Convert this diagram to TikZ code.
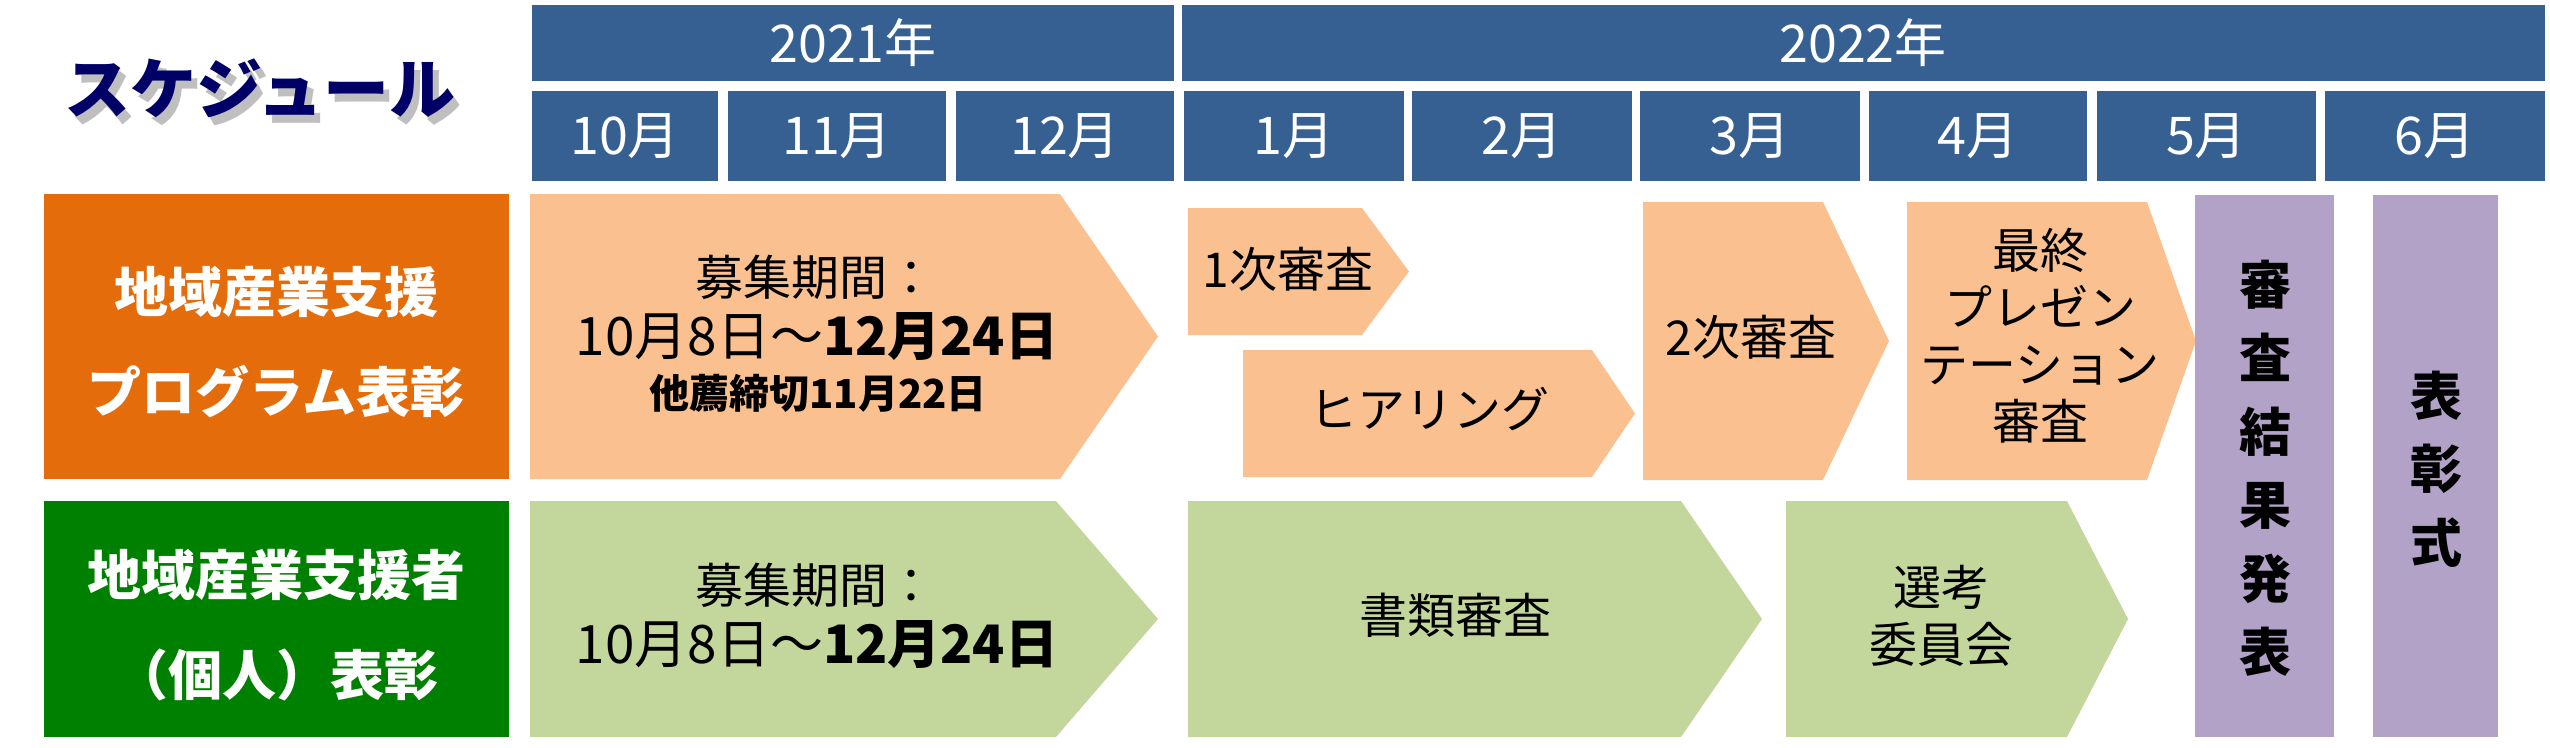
\documentclass[tikz,border=0pt]{standalone}
\usepackage{fontspec}
\setmainfont{Noto Sans CJK JP}
\definecolor{hdrblue}{HTML}{376092}
\definecolor{lblorange}{HTML}{E46C0A}
\definecolor{lightorange}{HTML}{FAC090}
\definecolor{lblgreen}{HTML}{008000}
\definecolor{lightgreen}{HTML}{C3D69B}
\definecolor{lavender}{HTML}{B3A2C7}
\definecolor{navytitle}{HTML}{000066}
\newcommand{\pentshape}[6]{\fill[#6] (#1,#4) -- (#2,#4) -- (#3,{(#4+#5)/2}) -- (#2,#5) -- (#1,#5) -- cycle;}
\tikzset{
  hdrbox/.style={fill=hdrblue},
  hdrtext/.style={text=white, inner sep=0pt, font=\fontsize{52}{60}\selectfont},
  lbltext/.style={text=white, inner sep=0pt, align=center, font=\fontsize{54}{100}\selectfont\bfseries},
  bodytext/.style={text=black, inner sep=0pt, align=center, font=\fontsize{48}{57}\selectfont},
  purpletext/.style={text=black, inner sep=0pt, align=center, font=\fontsize{52}{73.5}\selectfont\bfseries},
  titletext/.style={inner sep=0pt, font=\fontsize{66}{70}\selectfont\bfseries},
}
\begin{document}
\begin{tikzpicture}[x=1pt,y=-1pt]
\useasboundingbox (0,0) rectangle (2550,747);
% title with soft shadow
\node[titletext, text=black, opacity=0.25] (titleshadow) at (266,96) {スケジュール};
\node[titletext, text=navytitle] (title) at (260,88) {スケジュール};
% year header
\fill[hdrbox] (532,5) rectangle (1174,81);
\fill[hdrbox] (1182,5) rectangle (2545,81);
\node[hdrtext] (y2021) at (853,43) {2021年};
\node[hdrtext] (y2022) at (1863,43) {2022年};
% months
\foreach \a/\b/\m/\n in {532/718/10月/m10, 728/946/11月/m11, 956/1174/12月/m12, 1184/1404/1月/m1, 1412/1632/2月/m2, 1640/1860/3月/m3, 1869/2087/4月/m4, 2097/2316/5月/m5, 2325/2545/6月/m6}{
  \fill[hdrbox] (\a,91) rectangle (\b,181);
  \node[hdrtext] (\n) at ({(\a+\b)/2},136) {\m};
}
% row labels
\fill[lblorange] (44,194) rectangle (509,479);
\node[lbltext] (lbl1) at (276,342) {地域産業支援\\プログラム表彰};
\fill[lblgreen] (44,501) rectangle (509,737);
\node[lbltext] (lbl2) at (276,625) {地域産業支援者\\（個人）表彰};
% row 1 arrows
\pentshape{530}{1060}{1158}{194}{479}{lightorange}
\node[bodytext] (rec1a) at (815,277) {募集期間：};
\node[bodytext, font=\fontsize{53}{57}\selectfont] (rec1b) at (817,337) {10月8日～\textbf{12月24日}};
\node[bodytext, font=\fontsize{40}{45}\selectfont\bfseries] (rec1c) at (818,393) {他薦締切11月22日};
\pentshape{1188}{1362}{1409}{208}{335}{lightorange}
\node[bodytext] (first) at (1288,269) {1次審査};
\pentshape{1243}{1592}{1635}{350}{477}{lightorange}
\node[bodytext] (hearing) at (1429,409) {ヒアリング};
\pentshape{1643}{1823}{1889}{202}{480}{lightorange}
\node[bodytext] (second) at (1751,337) {2次審査};
\pentshape{1907}{2147}{2196}{202}{480}{lightorange}
\node[bodytext] (final) at (2040,336) {最終\\プレゼン\\テーション\\審査};
% purple columns
\fill[lavender] (2195,195) rectangle (2334,737);
\node[purpletext] (result) at (2265,468) {審\\査\\結\\果\\発\\表};
\fill[lavender] (2373,195) rectangle (2498,737);
\node[purpletext] (ceremony) at (2436,469) {表\\彰\\式};
% row 2 arrows
\pentshape{530}{1056}{1158}{501}{737}{lightgreen}
\node[bodytext] (rec2a) at (815,585) {募集期間：};
\node[bodytext, font=\fontsize{53}{57}\selectfont] (rec2b) at (817,645) {10月8日～\textbf{12月24日}};
\pentshape{1188}{1681}{1762}{501}{737}{lightgreen}
\node[bodytext] (docs) at (1455,615) {書類審査};
\pentshape{1786}{2067}{2128}{501}{737}{lightgreen}
\node[bodytext] (committee) at (1941,616) {選考\\委員会};
\end{tikzpicture}
\end{document}
